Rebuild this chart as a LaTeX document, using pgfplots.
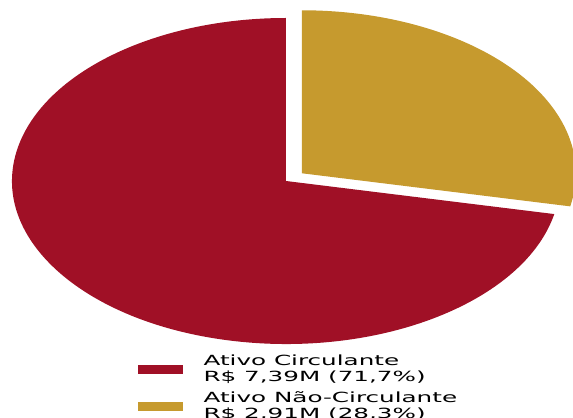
\documentclass[border=0pt]{standalone}
\usepackage{fontspec}
\setmainfont{DejaVu Sans}
\newfontfamily\legfont[FakeStretch=1.76]{DejaVu Sans}
\usepackage{pgfplots}
\usepackage{pgfplotstable}
\pgfplotsset{compat=1.18}

\definecolor{ativoC}{HTML}{A01026}
\definecolor{ativoNC}{HTML}{C69A2E}

% composition of assets (R$ millions)
\pgfplotstableread{
label value
AC  7.39
ANC 2.91
}\shares

\begin{document}
\begin{tikzpicture}
\useasboundingbox (0,0) rectangle (573bp,418bp);
\pgfplotstablegetelem{0}{value}\of\shares \let\va\pgfplotsretval
\pgfplotstablegetelem{1}{value}\of\shares \let\vb\pgfplotsretval
\pgfmathsetmacro\split{90-360*\vb/(\va+\vb)}
\pgfmathsetmacro\mid{(90+\split)/2}
\pgfmathsetmacro\gx{286+0.075*274*cos(\mid)}
\pgfmathsetmacro\gy{237+0.075*163*sin(\mid)}
\begin{axis}[
  x=1bp, y=1bp,
  xmin=0, xmax=573, ymin=0, ymax=418,
  hide axis, clip=false,
  legend style={
    at={(axis cs:138,65)}, anchor=north west,
    draw=none, fill=none, inner sep=0pt,
    font=\legfont\fontsize{14bp}{15.5bp}\selectfont,
    cells={anchor=west, align=left},
    row sep=5bp, column sep=19bp,
  },
]
  % pie slices
  \fill[ativoC] (axis cs:286,237) -- ++(\split:274bp and 163bp)
    arc[start angle=\split, end angle=-270, x radius=274bp, y radius=163bp] -- cycle;
  \fill[ativoNC] (axis cs:\gx,\gy) -- ++(90:274bp and 163bp)
    arc[start angle=90, end angle=\split, x radius=274bp, y radius=163bp] -- cycle;

  \addlegendimage{ativoC, legend image code/.code={\fill[ativoC] (0bp,-4bp) rectangle (44bp,4bp);}}
  \addlegendentry{Ativo Circulante\\R\$ 7,39M (71,7\%)}
  \addlegendimage{ativoNC, legend image code/.code={\fill[ativoNC] (0bp,-4bp) rectangle (44bp,4bp);}}
  \addlegendentry{Ativo Não-Circulante\\R\$ 2,91M (28,3\%)}
\end{axis}
\end{tikzpicture}
\end{document}
